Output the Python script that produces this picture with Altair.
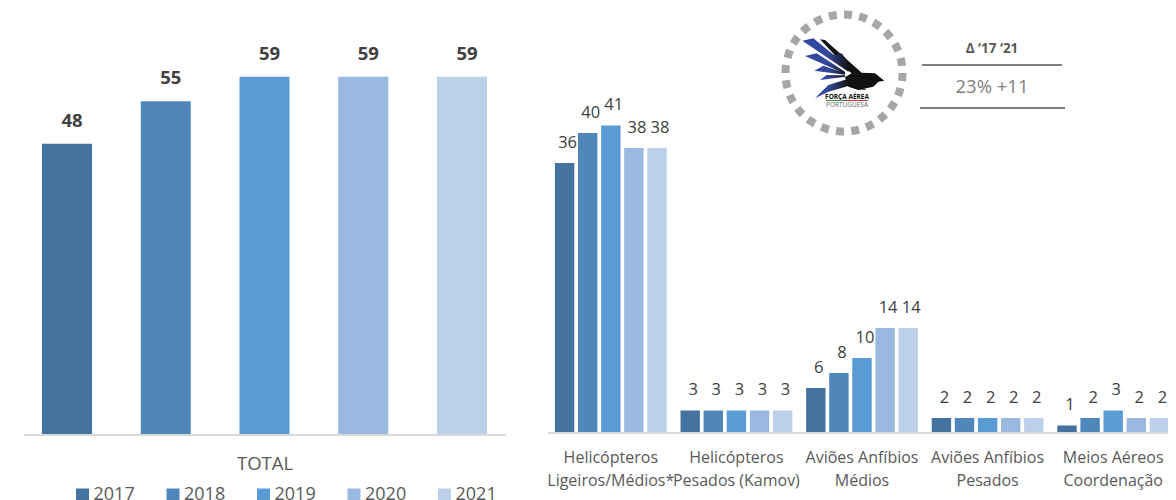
import altair as alt
import pandas as pd

FONT = "Open Sans"
years = ["2017", "2018", "2019", "2020", "2021"]
colors = ["#44739f", "#4f87bb", "#5b9bd5", "#99b9e0", "#bdd0e9"]
total = [48, 55, 59, 59, 59]
categories = [
    "Helicópteros|Ligeiros/Médios*",
    "Helicópteros|Pesados (Kamov)",
    "Aviões Anfíbios|Médios",
    "Aviões Anfíbios|Pesados",
    "Meios Aéreos|Coordenação",
]
heli_ligeiros = [36, 40, 41, 38, 38]
heli_pesados = [3, 3, 3, 3, 3]
anfibios_medios = [6, 8, 10, 14, 14]
anfibios_pesados = [2, 2, 2, 2, 2]
coordenacao = [1, 2, 3, 2, 2]
series = [heli_ligeiros, heli_pesados, anfibios_medios, anfibios_pesados, coordenacao]

df_total = pd.DataFrame({"year": years, "value": total})
df_groups = pd.DataFrame(
    [{"cat": c, "year": y, "value": v} for c, s in zip(categories, series) for y, v in zip(years, s)]
)
one = pd.DataFrame({"k": [0]})
color_scale = alt.Scale(domain=years, range=colors)

W, H = 1160, 427


def px(v):
    return alt.value(v - 8)


def py(v):
    return alt.value(v - 8)


# ---------- left group ----------
lxs = alt.Scale(type="band", domain=years, paddingInner=0.4934, paddingOuter=0.3445, range=[0, 513])
lys = alt.Scale(domain=[0, H / 6.07], nice=False, range=[H, 0])
left_bars = alt.Chart(df_total).mark_bar().encode(
    x=alt.X("year:N", sort=years, title="TOTAL", scale=lxs,
            axis=alt.Axis(labels=False, ticks=False, domain=False, titleFont=FONT, titleFontSize=18.5,
                          titleFontWeight="normal", titleColor="#595959", titlePadding=19, orient="bottom")),
    y=alt.Y("value:Q", scale=lys, axis=None),
    color=alt.Color("year:N", scale=color_scale, title=None,
                    legend=alt.Legend(orient="none", legendX=65.5, legendY=478, direction="horizontal",
                                      columns=5, symbolType="square", symbolSize=169, symbolStrokeWidth=0,
                                      labelFont=FONT, labelFontSize=18, labelColor="#595959",
                                      columnPadding=28.5, labelOffset=2)),
)
left_labels = alt.Chart(df_total).mark_text(font=FONT, fontSize=18.5, fontWeight="bold", color="#404040",
                                            dy=-23, dx=5, baseline="middle").encode(
    x=alt.X("year:N", sort=years, scale=lxs, axis=None),
    y=alt.Y("value:Q", scale=lys, axis=None), text="value:Q")
left_axis = alt.Chart(one).mark_rule(color="#d9d9d9", strokeWidth=2).encode(
    x=px(24), x2=px(506), y=py(435))

# ---------- right group ----------
RH = 425
rxs = alt.Scale(type="band", domain=categories, paddingInner=0.11, paddingOuter=0.055, range=[540, 1168])
rys = alt.Scale(domain=[0, RH / 7.5], nice=False, range=[RH, 0])
roff = alt.XOffset("year:N", sort=years,
                   scale=alt.Scale(type="band", domain=years, paddingInner=0.16, paddingOuter=0))
right_bars = alt.Chart(df_groups).mark_bar().encode(
    x=alt.X("cat:N", sort=categories, title=None, scale=rxs,
            axis=alt.Axis(labelExpr="split(datum.label, '|')", labelAngle=0, labelFont=FONT, labelFontSize=16,
                          labelColor="#595959", labelLineHeight=23, labelLimit=300, labelOverlap=False,
                          labelBound=False, labelFlush=False, ticks=False, domain=False, labelPadding=16,
                          orient="bottom", offset=-2)),
    xOffset=roff,
    y=alt.Y("value:Q", scale=rys, axis=None),
    color=alt.Color("year:N", scale=color_scale, legend=None))
right_labels = alt.Chart(df_groups).mark_text(font=FONT, fontSize=16.5, color="#404040", dy=-20.5, dx=3,
                                              baseline="middle").encode(
    x=alt.X("cat:N", sort=categories, scale=rxs, axis=None), xOffset=roff,
    y=alt.Y("value:Q", scale=rys, axis=None), text="value:Q")
right_axis = alt.Chart(one).mark_rule(color="#d9d9d9", strokeWidth=2).encode(
    x=px(548), x2=px(1168), y=py(433))


# logo glyphs traced in a 100 px box centred on the logo
def glyph(*polys):
    out = []
    for poly in polys:
        pts = [f"{(a - 150) / 150:.3f},{(b - 127.5) / 150:.3f}" for a, b in poly]
        out.append("M" + "L".join(pts) + "Z")
    return "".join(out)


feathers = glyph(
    [(22, 32), (55, 25), (165, 115), (160, 125)],
    [(30, 78), (65, 70), (150, 125), (150, 131)],
    [(58, 122), (85, 107), (150, 130), (150, 134)],
    [(75, 150), (95, 135), (150, 136), (152, 140)],
    [(60, 205), (100, 165), (165, 145), (170, 165), (100, 185)],
    [(105, 78), (140, 70), (185, 130), (170, 130)],
    [(160, 168), (190, 168), (215, 180), (190, 178)],
)
black = glyph(
    [(75, 28), (90, 30), (200, 128), (240, 130), (268, 152), (250, 155), (235, 170), (190, 180),
     (160, 170), (150, 142), (170, 130)],
)
wing_fill = alt.Gradient(gradient="linear", x1=0, x2=1, y1=0, y2=0, stops=[
    alt.GradientStop(color="#2f47a5", offset=0),
    alt.GradientStop(color="#33479b", offset=0.4),
    alt.GradientStop(color="#111111", offset=0.72),
    alt.GradientStop(color="#111111", offset=1),
])

ring = alt.Chart(one).mark_point(shape="circle", size=13700, filled=False, stroke="#a6a6a6", strokeWidth=8,
                                 strokeDash=[8, 7.3], opacity=1, strokeJoin="round").encode(x=px(844), y=py(73))
wing = alt.Chart(one).mark_point(shape=feathers, size=10000, filled=True, fill=wing_fill, opacity=1,
                                 strokeWidth=0).encode(x=px(845), y=py(72.5))
body = alt.Chart(one).mark_point(shape=black, size=10000, filled=True, fill="#111111", opacity=1,
                                 strokeWidth=0).encode(x=px(845), y=py(72.5))


def label(text, x, y, **kw):
    return alt.Chart(one).mark_text(text=text, font=FONT, baseline="middle", **kw).encode(x=px(x), y=py(y))


def hline(x1, x2, y, color="#000000", w=1):
    return alt.Chart(one).mark_rule(color=color, strokeWidth=w).encode(x=px(x1), x2=px(x2), y=py(y))


notes = [
    ring, body, wing,
    label("FORÇA AÉREA", 847, 97, fontSize=6.5, fontWeight="bold", color="#111111"),
    hline(826, 846, 100.5, "#3d8b4f"), hline(846, 868, 100.5, "#c8343c"),
    label("PORTUGUESA", 847, 104.5, fontSize=6.5, color="#666666"),
    label("Δ ‘17 ‘21", 992, 49, fontSize=13.5, fontWeight="bold", color="#595959"),
    hline(922, 1062, 65),
    label("23% +11", 992, 87, fontSize=18.5, color="#7f7f7f"),
    hline(920, 1065, 108),
]

chart = alt.layer(
    left_bars, left_labels, left_axis, right_bars, right_labels, right_axis, *notes
).resolve_scale(x="independent", y="independent", xOffset="independent", color="shared").properties(
    width=W, height=H, autosize=alt.AutoSizeParams(type="none"),
    padding={"left": 0, "top": 0, "right": 0, "bottom": 73},
).configure_view(stroke=None).configure_bar(stroke=None)
chart.save("out.html", embed_options={"renderer": "svg", "actions": False})
